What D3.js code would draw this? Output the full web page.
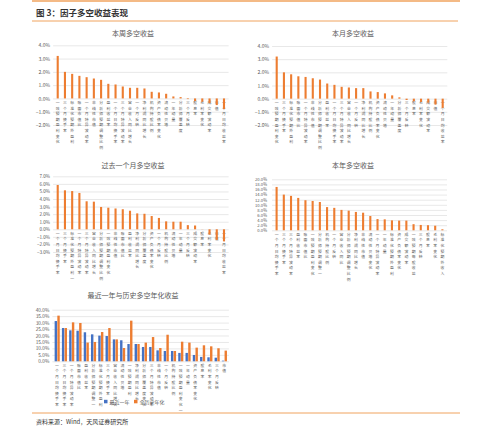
<!DOCTYPE html>
<html><head><meta charset="utf-8">
<script src="https://cdn.jsdelivr.net/npm/d3@7"></script>
<style>body{margin:0;background:#fff}svg{display:block}text{font-family:"Noto Sans CJK SC","Noto Sans",sans-serif}</style>
</head><body><svg id="c" width="499" height="433"></svg>
<script>
// ---- data ----
const weekCats = ["一致预期盈利变化","三个月换手率","标准化预期外盈利","账面市值比","一个月特异波动率","非线性市值","分析师预期调整比例","盈利收益率","一个月日均换手率","三个月特异波动率","营业收入同比增长","一个月反转","净利润同比增长","机构持股比例","资产负债率变化","流动性贝塔","一年动量","分析师覆盖度","三个月反转","股息率","毛利率变化","成交额波动率","市值","一个月日均收益率"];
const weekVals = [3.2,2.0,1.85,1.7,1.6,1.5,1.4,1.1,1.05,0.9,0.8,0.8,0.75,0.5,0.45,0.35,0.15,0.1,-0.05,-0.2,-0.25,-0.35,-0.5,-0.8];
const monthCats = weekCats.slice();
const monthVals = [3.2,2.0,1.85,1.7,1.65,1.55,1.45,1.15,1.05,0.9,0.85,0.8,0.8,0.55,0.5,0.4,0.25,0.1,-0.1,-0.2,-0.25,-0.3,-0.45,-0.7];
const pastMonthCats = ["一个月日均换手率","三个月换手率","标准化预期外盈利一","一个月特异波动率","三个月特异波动率","营业收入同比增长","分析师预期调整比例","一致预期盈利变化","非线性市值","账面市值比","盈利收益率","净利润同比增长","分析师覆盖度","资产负债率变化","一个月反转","机构持股比例","流动性贝塔","一年动量","三个月反转","成交额波动率","股息率","毛利率变化","市值","一个月日均收益率"];
const pastMonthVals = [5.85,5.15,5.05,4.8,3.7,3.65,2.95,2.85,2.75,2.65,2.45,2.1,2.05,1.75,1.5,1.05,1.0,1.0,0.55,0.5,0.02,-0.7,-1.4,-1.6];
const yearCats = ["一个月日均换手率","三个月换手率","三个月特异波动率","盈利收益率","账面市值比","一致预期盈利变化","分析师预期调整一","机构持股比例","一个月反转","营业收入同比","分析师预期调整比例","净利润同比增长","非线性市值","流动性贝塔变化","一个月特异波动率","一年动量","标准化预期外盈利","资产负债率变化","成交额波动率","一致预期每股收益","三个月反转","股息率","毛利率变化","标准化预期外收入"];
const yearVals = [17.0,14.0,13.5,12.7,11.8,11.5,11.1,9.1,8.8,8.0,7.7,7.2,6.9,5.6,4.4,4.3,3.9,3.8,3.8,2.4,2.1,2.0,1.8,0.4];
const annCats = ["一个月日均换手率","三个月日均换手率","一个月特异波动率","账面市值比","盈利收益率","分析师预期调整一","标准化预期外盈利","三个月换手率","营业收入同比增长","流动性贝塔","一致预期盈利","净利润同比增长","分析师覆盖度变化","三个月特异波动率","非线性市值","一个月反转","机构持股比例","一致预期盈利变化一","一年动量","资产负债率变化","股息率","毛利率变化","三个月反转","市值"];
const annRecent = [31.2,25.8,24.0,23.7,22.5,20.9,19.9,19.6,17.0,16.3,13.4,13.4,11.1,11.1,8.5,8.0,8.0,6.5,6.5,4.9,3.4,3.1,2.8,0.5];
const annHist = [35.4,25.8,30.2,29.7,14.5,15.0,22.7,25.8,17.0,10.3,31.5,13.4,14.5,18.8,10.3,20.6,8.0,15.2,14.5,10.6,12.4,11.6,10.1,8.3];
const seriesNames = ["最近一年","全历史年化"];
const weekTicks = [4,3,2,1,0,-1,-2];
const pastMonthTicks = [7,6,5,4,3,2,1,0,-1,-2,-3];
const yearTicks = [20,18,16,14,12,10,8,6,4,2,0];
const annTicks = [40,35,30,25,20,15,10,5,0];

const ORANGE="#ED7D31", BLUE="#4472C4", GRID="#D9D9D9", TXT="#595959";
const svg=d3.select("#c");

// frame
svg.append("line").attr("x1",32).attr("x2",460).attr("y1",1).attr("y2",1).attr("stroke","#F0A35E").attr("stroke-width",1.5);
svg.append("text").attr("x",36).attr("y",15.5).attr("font-size",8.5).attr("font-weight","bold").attr("fill","#333").text("图 3：因子多空收益表现");
svg.append("line").attr("x1",32).attr("x2",458).attr("y1",21).attr("y2",21).attr("stroke","#F0A35E").attr("stroke-width",1);
svg.append("line").attr("x1",32).attr("x2",460).attr("y1",413).attr("y2",413).attr("stroke","#F0A35E").attr("stroke-width",1);
svg.append("text").attr("x",36).attr("y",423.5).attr("font-size",6).attr("fill","#333").text("资料来源：Wind，天风证券研究所");

function chart(o){
  const g=svg.append("g");
  const x=d3.scaleBand().domain(o.cats).range(o.xr).paddingInner(0).paddingOuter(0);
  const y=d3.scaleLinear().domain(o.yd).range(o.yr);
  g.append("text").attr("x",o.tx).attr("y",o.ty).attr("text-anchor","middle").attr("font-size",7).attr("fill",TXT).text(o.title);
  const ax=d3.axisLeft(y).tickValues(o.ticks).tickSize(-(o.xr[1]-o.xr[0]+o.gx)).tickPadding(o.pad||3).tickFormat(d=>d3.format(".1f")(d)+"%");
  const ag=g.append("g").attr("transform",`translate(${o.xr[0]-o.gx/2},0)`).call(ax);
  ag.select(".domain").remove();
  ag.selectAll(".tick line").attr("stroke",GRID).attr("stroke-width",0.6);
  ag.selectAll(".tick text").attr("font-size",o.tfs||5).attr("fill",TXT);
  // category labels, characters stacked vertically
  const lh=5.6;
  g.append("g").selectAll("text").data(o.cats).join("text")
    .attr("font-size",3.85).attr("fill",TXT).attr("text-anchor","middle")
    .each(function(d){
      const t=d3.select(this), cx=x(d)+x.bandwidth()/2;
      Array.from(d).forEach((ch,i)=>{
        t.append("tspan").attr("x",cx).attr("y",y(0)+o.ly+i*lh).text(ch);
      });
    });
  if(o.vals2){
    const bw=2.4;
    g.append("g").selectAll("rect").data(o.vals).join("rect")
      .attr("x",(d,i)=>x(o.cats[i])+x.bandwidth()/2-bw).attr("width",bw)
      .attr("y",d=>y(Math.max(0,d))).attr("height",d=>Math.abs(y(d)-y(0))).attr("fill",BLUE);
    g.append("g").selectAll("rect").data(o.vals2).join("rect")
      .attr("x",(d,i)=>x(o.cats[i])+x.bandwidth()/2+0.3).attr("width",bw)
      .attr("y",d=>y(Math.max(0,d))).attr("height",d=>Math.abs(y(d)-y(0))).attr("fill",ORANGE);
  } else {
    const bw=2.1;
    g.append("g").selectAll("rect").data(o.vals).join("rect")
      .attr("x",(d,i)=>x(o.cats[i])+x.bandwidth()/2-bw/2).attr("width",bw)
      .attr("y",d=>y(Math.max(0,d))).attr("height",d=>Math.abs(y(d)-y(0))).attr("fill",ORANGE);
  }
  return {x,y,g};
}

chart({cats:weekCats,vals:weekVals,xr:[54.1,227.6],yd:[-2,4],yr:[125,45.3],ticks:weekTicks,gx:2,title:"本周多空收益",tx:133,ty:36,ly:5.5});
chart({cats:monthCats,vals:monthVals,xr:[273.1,446.3],yd:[-2,4],yr:[125,46],ticks:weekTicks,gx:2,title:"本月多空收益",tx:353,ty:36,ly:5.5});
chart({cats:pastMonthCats,vals:pastMonthVals,xr:[54.1,227.6],yd:[-3,7],yr:[252,176.3],ticks:pastMonthTicks,gx:2,title:"过去一个月多空收益",tx:133,ty:168,ly:5.5,tfs:4.6});
chart({cats:yearCats,vals:yearVals,xr:[273,446],yd:[0,20],yr:[230.3,179.3],ticks:yearTicks,gx:2,title:"本年多空收益",tx:353,ty:168,ly:5.5,pad:5,tfs:4.2});
chart({cats:annCats,vals:annRecent,vals2:annHist,xr:[53.4,227.9],yd:[0,40],yr:[361.3,309.7],ticks:annTicks,gx:2,title:"最近一年与历史多空年化收益",tx:133,ty:298,ly:5.5,tfs:4.8});

// legend chart 5
const lg=svg.append("g").attr("transform","translate(104,403)");
[BLUE,ORANGE].forEach((c,i)=>{
  const gx=i*30;
  lg.append("rect").attr("x",gx).attr("y",-3.2).attr("width",3.5).attr("height",3.5).attr("fill",c);
  lg.append("text").attr("x",gx+5.5).attr("y",0.5).attr("font-size",5).attr("fill",TXT).text(seriesNames[i]);
});
</script></body></html>
